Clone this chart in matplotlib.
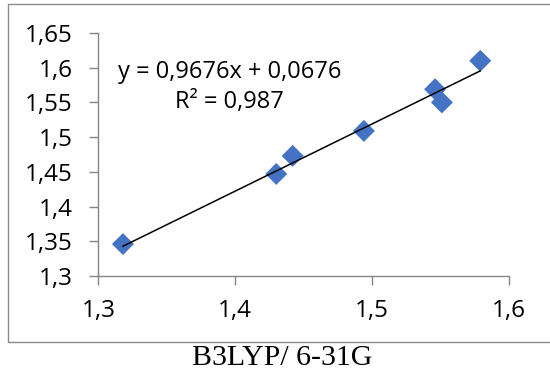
import matplotlib
matplotlib.use("Agg")
import matplotlib.pyplot as plt
from matplotlib.patches import Rectangle
import numpy as np

# Bond lengths: B3LYP/6-31G (x) vs. reference values (y)
x_b3lyp = [1.318, 1.430, 1.442, 1.494, 1.546, 1.551, 1.579]
y_ref = [1.346, 1.447, 1.473, 1.509, 1.569, 1.550, 1.610]

# Linear trendline coefficients
slope = 0.9676
intercept = 0.0676
r_squared = 0.987

x_ticks = [1.3, 1.4, 1.5, 1.6]
y_ticks = [1.3, 1.35, 1.4, 1.45, 1.5, 1.55, 1.6, 1.65]
x_title = "B3LYP/ 6-31G"

W, H = 550, 378
fig = plt.figure(figsize=(W / 100, H / 100), dpi=100)

# chart-area frame
fig.patches.append(Rectangle((8 / W, 1 - 342 / H), 600 / W, (342 - 4) / H,
                             transform=fig.transFigure, fill=False,
                             edgecolor="#8c8c8c", linewidth=1.0))

ax = fig.add_axes([98.3 / W, 1 - 276 / H, (509 - 98.3) / W, (276 - 33) / H])
ax.set_facecolor("none")

ax.scatter(x_b3lyp, y_ref, marker="D", s=125, color="#4472C4",
           edgecolors="none", zorder=3)

xs = np.array([min(x_b3lyp), max(x_b3lyp)])
ax.plot(xs, slope * xs + intercept, color="black", linewidth=1.1, zorder=4)

ax.set_xlim(1.3, 1.6)
ax.set_ylim(1.3, 1.65)
ax.set_xticks(x_ticks)
ax.set_yticks(y_ticks)

def comma(v):
    s = f"{v:.2f}".rstrip("0").rstrip(".")
    return s.replace(".", ",")

fam = ["Open Sans", "DejaVu Sans"]
tick_font = {"family": fam, "size": 17.5}
ax.set_xticklabels([comma(v) for v in x_ticks], fontdict=tick_font)
ax.set_yticklabels([comma(v) for v in y_ticks], fontdict=tick_font)

for side in ("top", "right"):
    ax.spines[side].set_visible(False)
for side in ("left", "bottom"):
    ax.spines[side].set_color("#868686")
    ax.spines[side].set_linewidth(1.0)
ax.tick_params(axis="both", direction="out", length=6.5, width=1.0,
               color="#868686", labelcolor="black")
ax.tick_params(axis="y", pad=12)
ax.tick_params(axis="x", pad=10)

eq = f"y = {slope:.4f}x + {intercept:.4f}".replace(".", ",")
r2 = f"R² = {r_squared:.3f}".replace(".", ",")
tx = 1.3 + (229.5 - 98.3) / 1369
ax.text(tx, 1.3 + (276 - 71.5) / 694.3, eq, ha="center", va="center",
        fontsize=17, family=fam)
ax.text(tx, 1.3 + (276 - 102) / 694.3, r2, ha="center", va="center",
        fontsize=17, family=fam)

fig.text(281.7 / W, 1 - 358 / H, x_title, ha="center", va="center",
         fontsize=21.5, family=["Liberation Serif", "DejaVu Serif"])

fig.savefig("out.png", dpi=100)
